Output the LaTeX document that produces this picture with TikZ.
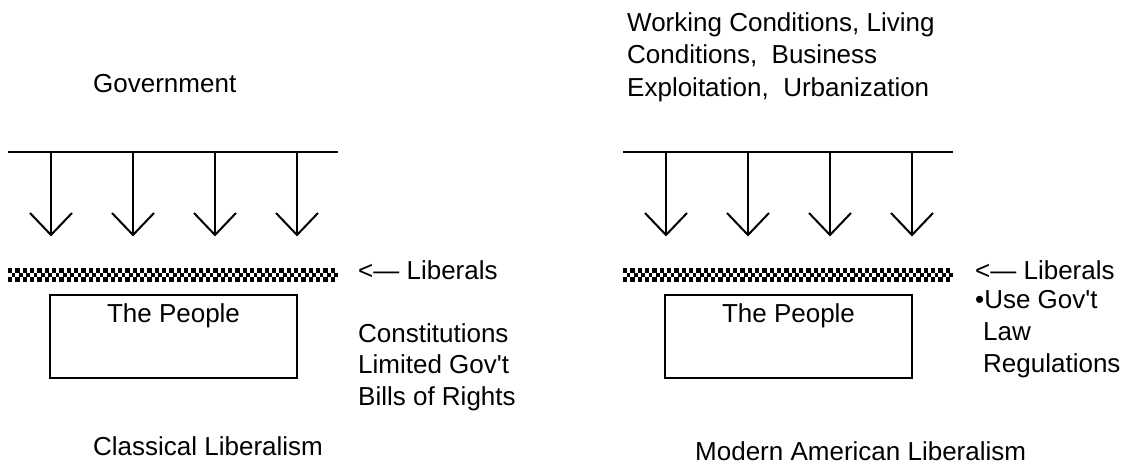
\documentclass[tikz,border=0pt]{standalone}
\usepackage{fontspec}
\setmainfont{Liberation Sans}[Ligatures=TeXOff]
\begin{document}
\begin{tikzpicture}[x=1pt,y=-1pt,
  txt/.style={font=\fontsize{26}{31.5}\selectfont, inner sep=0pt, anchor=base west},
  ctxt/.style={txt, anchor=base},
  rule/.style={draw=black, line width=2pt},
  drop/.style={draw=black, line width=2pt},
  barb/.style={draw=black, line width=2pt, line join=miter},
  box/.style={draw=black, line width=2pt, minimum width=247pt, minimum height=83pt, inner sep=0pt}]
\useasboundingbox (0,0) rectangle (1143,465);

% ---------- left panel: classical liberalism ----------
\node[txt] (govL) at (93,93) {Government};
\coordinate (topL1) at (8,152);
\coordinate (topL2) at (338,152);
\draw[rule] (topL1) -- (topL2);
\foreach \x [count=\i] in {51,133,215,297}{
  \coordinate (sL\i) at (\x,152);
  \coordinate (tL\i) at (\x,235);
  \draw[drop] (sL\i) -- (tL\i);
  \draw[barb] ([shift={(-21,-22)}]tL\i) -- (tL\i) -- ([shift={(21,-22)}]tL\i);
}
\foreach \k in {0,...,44}{
  \fill ({8+7.333*\k},268) rectangle ++(4.2,4.7);
  \fill ({8+7.333*\k+3.667},272.7) rectangle ++(3.667,4.6);
  \fill ({8+7.333*\k},277.3) rectangle ++(4.2,4.7);
}
\node[txt] (libL) at (358,279) {<— Liberals};
\node[box] (peopleL) at (173.5,336.5) {};
\node[ctxt] (peopleLt) at (173.5,322) {The People};
\node[txt] (cL1) at (358,342) {Constitutions};
\node[txt] (cL2) at (358,373) {Limited Gov't};
\node[txt] (cL3) at (358,405) {Bills of Rights};
\node[txt] (titleL) at (93,455) {Classical Liberalism};

% ---------- right panel: modern american liberalism ----------
\node[txt] (wR1) at (627,32) {Working Conditions, Living};
\node[txt] (wR2) at (627,64) {Conditions, \ Business};
\node[txt] (wR3) at (627,97) {Exploitation, \ Urbanization};
\coordinate (topR1) at (623,152);
\coordinate (topR2) at (953,152);
\draw[rule] (topR1) -- (topR2);
\foreach \x [count=\i] in {666,748,830,912}{
  \coordinate (sR\i) at (\x,152);
  \coordinate (tR\i) at (\x,235);
  \draw[drop] (sR\i) -- (tR\i);
  \draw[barb] ([shift={(-21,-22)}]tR\i) -- (tR\i) -- ([shift={(21,-22)}]tR\i);
}
\foreach \k in {0,...,44}{
  \fill ({623+7.333*\k},268) rectangle ++(4.2,4.7);
  \fill ({623+7.333*\k+3.667},272.7) rectangle ++(3.667,4.6);
  \fill ({623+7.333*\k},277.3) rectangle ++(4.2,4.7);
}
\node[txt] (libR) at (975,279) {<— Liberals};
\node[box] (peopleR) at (788.5,336.5) {};
\node[ctxt] (peopleRt) at (788.5,322) {The People};
\node[txt] (uR1) at (975,308) {•Use Gov't};
\node[txt] (uR2) at (983,340) {Law};
\node[txt] (uR3) at (983,372) {Regulations};
\node[txt] (titleR) at (695,460) {Modern American Liberalism};
\end{tikzpicture}
\end{document}
